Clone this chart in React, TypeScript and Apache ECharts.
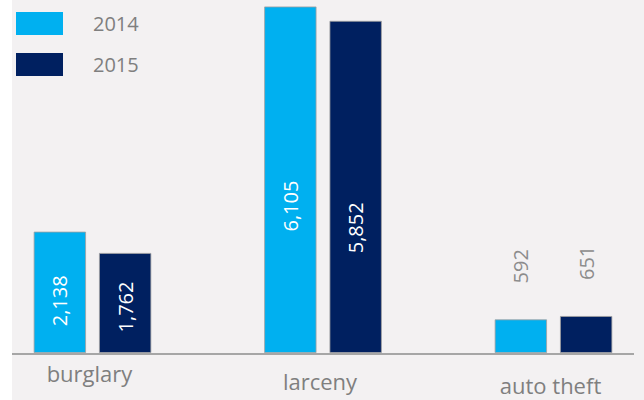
import React, { useEffect, useRef } from "react";
import * as echarts from "echarts";

const categories = ["burglary", "larceny", "auto theft"];
const seriesNames = ["2014", "2015"];
const values2014 = [2138, 6105, 592];
const values2015 = [1762, 5852, 651];

const colors = ["#00b0f0", "#002060"];
const FONT = "'Open Sans', 'Noto Sans', sans-serif";

// label placement (fraction of bar from top) for inside labels; null => outside above
const labelFrac2014 = [0.57, 0.576, null];
const labelFrac2015 = [0.54, 0.623, null];
const catPadTop = [0, 8, 12];

const fmt = (v: number) => v.toLocaleString("en-US");

function buildData(values: number[], fracs: (number | null)[]) {
  return values.map((v, i) => {
    const f = fracs[i];
    if (f === null) {
      return {
        value: v,
        label: {
          position: "top",
          distance: 36,
          align: "left",
          verticalAlign: "middle",
          color: "#8c8c8c",
        },
      };
    }
    return {
      value: v,
      label: {
        position: ["50%", `${f * 100}%`],
        align: "center",
        verticalAlign: "middle",
        color: "#ffffff",
      },
    };
  });
}

export default function App() {
  const ref = useRef<HTMLDivElement>(null);
  useEffect(() => {
    if (!ref.current) return;
    const chart = echarts.init(ref.current, null, { renderer: "svg" });
    const mkSeries = (name: string, values: number[], fracs: (number | null)[], color: string) => ({
      name,
      type: "bar",
      data: buildData(values, fracs),
      barGap: "25%",
      barCategoryGap: "49%",
      itemStyle: { color, borderColor: "#a0a0a0", borderWidth: 0.8 },
      label: {
        show: true,
        rotate: 90,
        fontSize: 20,
        fontFamily: FONT,
        formatter: (p: any) => fmt(p.value),
      },
      z: 3,
    });
    chart.setOption({
      animation: false,
      backgroundColor: "#ffffff",
      textStyle: { fontFamily: FONT },
      graphic: [
        {
          type: "rect",
          z: -10,
          silent: true,
          shape: { x: 12, y: 0, width: 632, height: 400 },
          style: { fill: "#f3f1f2" },
        },
        {
          type: "line",
          z: 10,
          silent: true,
          shape: { x1: 12, y1: 354, x2: 634, y2: 354 },
          style: { stroke: "#a6a6a6", lineWidth: 2 },
        },
      ],
      legend: {
        orient: "vertical",
        left: 16,
        top: 12,
        padding: 0,
        itemWidth: 47,
        itemHeight: 23,
        itemGap: 18,
        icon: "rect",
        data: seriesNames,
        textStyle: {
          fontSize: 20,
          color: "#7f7f7f",
          fontFamily: FONT,
          padding: [0, 0, 0, 25],
        },
        itemStyle: { borderWidth: 0 },
      },
      grid: {
        left: -22.75,
        right: -24.75,
        top: 0,
        bottom: 47,
        containLabel: false,
        outerBoundsMode: "none",
      },
      xAxis: {
        type: "category",
        data: categories,
        axisLine: { show: false },
        axisTick: { show: false },
        axisLabel: {
          margin: 9,
          formatter: (v: string) => {
            const i = categories.indexOf(v);
            return `{c${i}|${v}}`;
          },
          rich: {
            c0: { fontSize: 22, color: "#7f7f7f", fontFamily: FONT, padding: [catPadTop[0], 6, 0, 0] },
            c1: { fontSize: 22, color: "#7f7f7f", fontFamily: FONT, padding: [catPadTop[1], 6, 0, 0] },
            c2: { fontSize: 22, color: "#7f7f7f", fontFamily: FONT, padding: [catPadTop[2], 6, 0, 0] },
          },
        },
      },
      yAxis: {
        type: "value",
        min: 0,
        max: 6220,
        show: false,
        splitLine: { show: false },
      },
      series: [
        mkSeries(seriesNames[0], values2014, labelFrac2014, colors[0]),
        mkSeries(seriesNames[1], values2015, labelFrac2015, colors[1]),
      ],
    });
    return () => chart.dispose();
  }, []);
  return (
    <div
      ref={ref}
      style={{ position: "fixed", left: 0, top: 0, width: 644, height: 400 }}
    />
  );
}
